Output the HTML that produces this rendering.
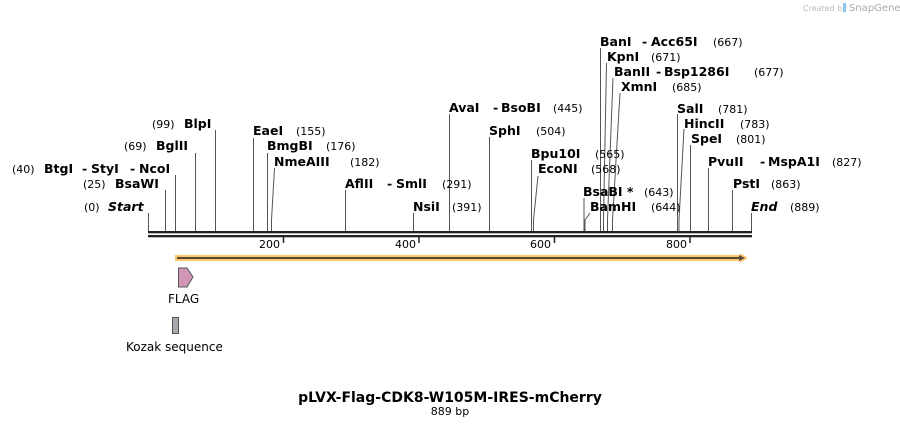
<!DOCTYPE html>
<html><head><meta charset="utf-8"><style>
html,body{margin:0;padding:0;background:#fff;}
svg{display:block;}
text{font-family:"DejaVu Sans","Liberation Sans",sans-serif;font-size:11px;fill:#000;white-space:pre;}
.b{font-weight:bold;font-size:12.5px;}
.n{font-size:11px;}
.i{font-style:italic;font-weight:bold;font-size:12.5px;}
line.s{stroke:#555;stroke-width:1;}
polyline{fill:none;stroke:#555;stroke-width:1;}
</style></head><body>
<svg width="900" height="428" viewBox="0 0 900 428" xml:space="preserve">
<text x="803" y="11" style="font-size:8px;fill:#bbb">Created by</text>
<rect x="843" y="3" width="3" height="9" fill="#8ac6ef"/>
<text x="849" y="11" style="font-size:10px;fill:#aaa">SnapGene</text>

<line class="s" x1="148.5" y1="213" x2="148.5" y2="231"/>
<line class="s" x1="165.5" y1="190" x2="165.5" y2="231"/>
<line class="s" x1="175.5" y1="175" x2="175.5" y2="231"/>
<line class="s" x1="195.5" y1="153" x2="195.5" y2="231"/>
<line class="s" x1="215.5" y1="130" x2="215.5" y2="231"/>
<line class="s" x1="253.5" y1="138" x2="253.5" y2="231"/>
<line class="s" x1="267.5" y1="153" x2="267.5" y2="231"/>
<polyline points="274.5,168 271.5,220 271.5,231"/>
<line class="s" x1="345.5" y1="190" x2="345.5" y2="231"/>
<line class="s" x1="413.5" y1="213" x2="413.5" y2="231"/>
<line class="s" x1="449.5" y1="114" x2="449.5" y2="231"/>
<line class="s" x1="489.5" y1="137" x2="489.5" y2="231"/>
<line class="s" x1="531.5" y1="160" x2="531.5" y2="231"/>
<polyline points="538,176 533.5,220 533.5,231"/>
<line class="s" x1="584" y1="198" x2="584" y2="231"/>
<polyline points="590,213 585,220 585,231"/>
<line class="s" x1="600.5" y1="48" x2="600.5" y2="231"/>
<polyline points="606.5,63 603.5,220 603.5,231"/>
<polyline points="613,78 607.5,220 607.5,231"/>
<polyline points="620,93 612.5,220 612.5,231"/>
<line class="s" x1="677.5" y1="114" x2="677.5" y2="231"/>
<polyline points="684,129 679,220 679,231"/>
<line class="s" x1="690.5" y1="145" x2="690.5" y2="231"/>
<line class="s" x1="708.5" y1="168" x2="708.5" y2="231"/>
<line class="s" x1="732.5" y1="190" x2="732.5" y2="231"/>
<line class="s" x1="751.5" y1="213" x2="751.5" y2="231"/>

<text x="84" y="211" class="n">(0)</text><text x="108" y="211" class="i">Start</text>
<text x="83" y="188" class="n">(25)</text><text x="115" y="188" class="b">BsaWI</text>
<text x="12" y="173" class="n">(40)</text><text x="44" y="173" class="b">BtgI</text><text x="82" y="173" class="b">-</text><text x="91" y="173" class="b">StyI</text><text x="130" y="173" class="b">-</text><text x="139" y="173" class="b">NcoI</text>
<text x="124" y="150" class="n">(69)</text><text x="156" y="150" class="b">BglII</text>
<text x="152" y="128" class="n">(99)</text><text x="184" y="128" class="b">BlpI</text>
<text x="253" y="135" class="b">EaeI</text><text x="296" y="135" class="n">(155)</text>
<text x="267" y="150" class="b">BmgBI</text><text x="326" y="150" class="n">(176)</text>
<text x="274" y="166" class="b">NmeAIII</text><text x="350" y="166" class="n">(182)</text>
<text x="345" y="188" class="b">AflII</text><text x="387" y="188" class="b">-</text><text x="396" y="188" class="b">SmlI</text><text x="442" y="188" class="n">(291)</text>
<text x="413" y="211" class="b">NsiI</text><text x="452" y="211" class="n">(391)</text>
<text x="449" y="112" class="b">AvaI</text><text x="493" y="112" class="b">-</text><text x="501" y="112" class="b">BsoBI</text><text x="553" y="112" class="n">(445)</text>
<text x="489" y="135" class="b">SphI</text><text x="536" y="135" class="n">(504)</text>
<text x="531" y="158" class="b">Bpu10I</text><text x="595" y="158" class="n">(565)</text>
<text x="538" y="173" class="b">EcoNI</text><text x="591" y="173" class="n">(568)</text>
<text x="583" y="196" class="b">BsaBI *</text><text x="644" y="196" class="n">(643)</text>
<text x="590" y="211" class="b">BamHI</text><text x="651" y="211" class="n">(644)</text>
<text x="600" y="46" class="b">BanI</text><text x="642" y="46" class="b">-</text><text x="651" y="46" class="b">Acc65I</text><text x="713" y="46" class="n">(667)</text>
<text x="607" y="61" class="b">KpnI</text><text x="651" y="61" class="n">(671)</text>
<text x="614" y="76" class="b">BanII</text><text x="656" y="76" class="b">-</text><text x="664" y="76" class="b">Bsp1286I</text><text x="754" y="76" class="n">(677)</text>
<text x="621" y="91" class="b">XmnI</text><text x="672" y="91" class="n">(685)</text>
<text x="677" y="113" class="b">SalI</text><text x="718" y="113" class="n">(781)</text>
<text x="684" y="128" class="b">HincII</text><text x="740" y="128" class="n">(783)</text>
<text x="691" y="143" class="b">SpeI</text><text x="736" y="143" class="n">(801)</text>
<text x="708" y="166" class="b">PvuII</text><text x="760" y="166" class="b">-</text><text x="768" y="166" class="b">MspA1I</text><text x="832" y="166" class="n">(827)</text>
<text x="733" y="188" class="b">PstI</text><text x="771" y="188" class="n">(863)</text>
<text x="751" y="211" class="i">End</text><text x="790" y="211" class="n">(889)</text>

<rect x="148" y="231" width="604" height="2.3" fill="#222"/>
<rect x="148" y="235" width="604" height="2.3" fill="#222"/>
<line x1="283.5" y1="237" x2="283.5" y2="243" stroke="#222" stroke-width="1.5"/>
<line x1="419" y1="237" x2="419" y2="243" stroke="#222" stroke-width="1.5"/>
<line x1="554.5" y1="237" x2="554.5" y2="243" stroke="#222" stroke-width="1.5"/>
<line x1="690" y1="237" x2="690" y2="243" stroke="#222" stroke-width="1.5"/>
<text x="259" y="248" class="n">200</text>
<text x="395" y="248" class="n">400</text>
<text x="530" y="248" class="n">600</text>
<text x="666" y="248" class="n">800</text>

<rect x="175" y="255" width="568" height="6" fill="#fcc872"/>
<polygon points="740,253 748,258 740,263" fill="#fcc872"/>
<line x1="177" y1="258" x2="742" y2="258" stroke="#5a4a30" stroke-width="2"/>
<polygon points="739,255 745,258 739,261" fill="#5a4a30"/>

<polygon points="178.5,268 187,268 193,277 187,287 178.5,287" fill="#cf97b5" stroke="#555" stroke-width="1"/>
<text x="168" y="303" style="font-size:12px">FLAG</text>
<rect x="172.5" y="317.5" width="6" height="16" fill="#a5a9ae" stroke="#555" stroke-width="1"/>
<text x="126" y="351" style="font-size:12px">Kozak sequence</text>

<text x="450" y="402" text-anchor="middle" style="font-weight:bold;font-size:14px">pLVX-Flag-CDK8-W105M-IRES-mCherry</text>
<text x="450" y="415" text-anchor="middle" style="font-size:11px">889 bp</text>
</svg>
</body></html>
